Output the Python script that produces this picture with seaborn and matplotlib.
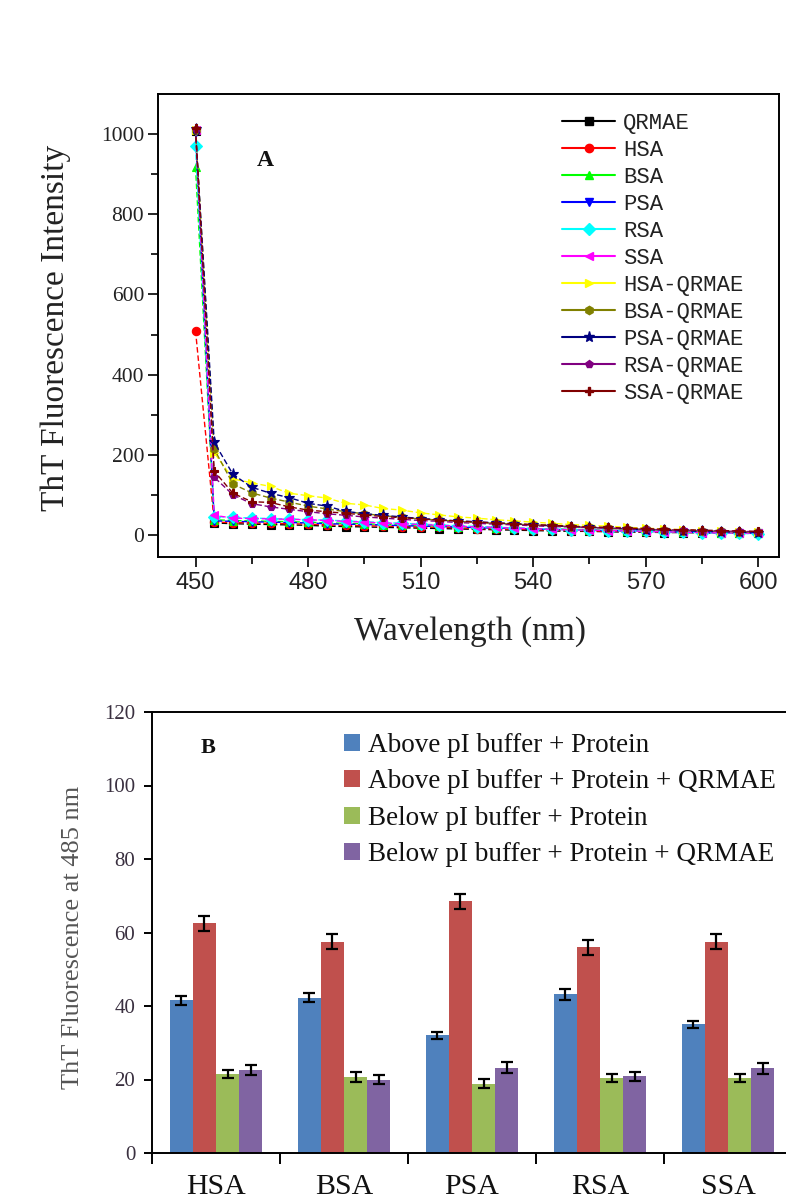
import matplotlib
matplotlib.use("Agg")
import matplotlib.pyplot as plt
import pandas as pd
import seaborn as sns
from matplotlib.lines import Line2D
from matplotlib.patches import Patch
from matplotlib.ticker import MultipleLocator, FixedLocator, NullFormatter

# ---------------- Panel A: ThT emission spectra ----------------
wavelength = [450, 455, 460, 465, 470, 475, 480, 485, 490, 495, 500, 505, 510, 515, 520,
              525, 530, 535, 540, 545, 550, 555, 560, 565, 570, 575, 580, 585, 590, 595, 600]

qrmae = [1008, 30, 28, 27, 26, 25, 24, 22, 21, 20, 19, 18, 17, 16, 15, 14,
         13, 12, 11, 10, 9, 9, 8, 7, 7, 6, 6, 5, 5, 4, 4]
hsa = [510, 32, 31, 30, 29, 28, 27, 25, 24, 23, 22, 21, 20, 19, 18, 16,
       15, 14, 13, 12, 11, 10, 9, 9, 8, 7, 7, 6, 6, 5, 5]
bsa = [918, 38, 36, 35, 34, 33, 32, 30, 29, 28, 26, 25, 24, 22, 21, 20,
       18, 17, 16, 15, 14, 13, 12, 11, 10, 9, 8, 7, 6, 5, 4]
psa = [1005, 35, 34, 33, 32, 31, 30, 28, 27, 26, 25, 23, 22, 21, 20, 18,
       17, 16, 15, 14, 13, 12, 11, 10, 9, 8, 7, 6, 5, 5, 4]
rsa = [970, 46, 44, 42, 41, 40, 38, 37, 35, 33, 31, 29, 27, 25, 23, 21,
       19, 18, 16, 15, 13, 12, 11, 10, 9, 8, 7, 6, 5, 4, 3]
ssa = [1010, 49, 42, 41, 40, 39, 38, 36, 34, 32, 30, 28, 26, 24, 22, 20,
       19, 17, 16, 14, 13, 12, 11, 10, 9, 8, 7, 6, 5, 5, 4]
hsa_qrmae = [1010, 205, 140, 130, 121, 104, 98, 92, 79, 75, 66, 62, 55, 50, 45, 42,
             38, 35, 32, 29, 26, 24, 22, 19, 17, 15, 13, 11, 9, 8, 7]
bsa_qrmae = [1010, 214, 127, 105, 92, 82, 72, 65, 58, 53, 48, 44, 40, 37, 34, 31,
             29, 27, 25, 23, 21, 19, 17, 15, 14, 12, 11, 10, 9, 8, 7]
psa_qrmae = [1012, 231, 151, 119, 104, 93, 79, 72, 59, 53, 49, 45, 41, 38, 35, 33,
             30, 28, 25, 23, 21, 19, 17, 15, 13, 12, 10, 9, 8, 7, 6]
rsa_qrmae = [1013, 144, 100, 78, 70, 64, 58, 53, 49, 45, 42, 39, 36, 34, 31, 29,
             27, 25, 23, 21, 20, 18, 17, 15, 14, 13, 12, 11, 10, 9, 8]
ssa_qrmae = [1015, 159, 104, 83, 81, 70, 62, 58, 54, 50, 46, 43, 40, 37, 35, 32,
             30, 28, 26, 24, 22, 20, 19, 17, 16, 14, 13, 12, 11, 10, 9]

spectra_labels = ["QRMAE", "HSA", "BSA", "PSA", "RSA", "SSA",
                  "HSA-QRMAE", "BSA-QRMAE", "PSA-QRMAE", "RSA-QRMAE", "SSA-QRMAE"]
spectra_values = [qrmae, hsa, bsa, psa, rsa, ssa,
                  hsa_qrmae, bsa_qrmae, psa_qrmae, rsa_qrmae, ssa_qrmae]
spectra_colors = ["#000000", "#FF0000", "#00FF00", "#0000FF", "#00FFFF", "#FF00FF",
                  "#FFFF00", "#808000", "#000080", "#800080", "#800000"]
spectra_markers = ["s", "o", "^", "v", "D", "<", ">", "h", "*", "p", "P"]

# ---------------- Panel B: ThT fluorescence at 485 nm ----------------
proteins = ["HSA", "BSA", "PSA", "RSA", "SSA"]
conditions = ["Above pI buffer + Protein",
              "Above pI buffer + Protein + QRMAE",
              "Below pI buffer + Protein",
              "Below pI buffer + Protein + QRMAE"]
above_protein = [41.6, 42.3, 32.0, 43.2, 35.0]
above_protein_qrmae = [62.5, 57.5, 68.5, 56.0, 57.5]
below_protein = [21.4, 20.6, 18.9, 20.5, 20.3]
below_protein_qrmae = [22.6, 20.0, 23.2, 20.9, 23.0]
above_protein_err = [1.2, 1.3, 1.0, 1.5, 1.0]
above_protein_qrmae_err = [2.0, 2.0, 2.0, 2.0, 2.0]
below_protein_err = [1.1, 1.4, 1.2, 1.1, 1.1]
below_protein_qrmae_err = [1.4, 1.2, 1.5, 1.2, 1.4]
bar_colors = ["#4F81BD", "#C0504D", "#9BBB59", "#8064A2"]

# ---------------- figure setup ----------------
sns.set_theme(style="ticks")
plt.rcParams["font.family"] = ["Liberation Serif", "DejaVu Serif"]
plt.rcParams["axes.linewidth"] = 1.4

W, H = 786, 1202
fig = plt.figure(figsize=(W / 100, H / 100), dpi=100)
fig.patch.set_facecolor("white")


def box(left, top, right, bottom):
    return [left / W, 1 - bottom / H, (right - left) / W, (bottom - top) / H]


# ---------------- Panel A ----------------
axA = fig.add_axes(box(158, 94, 779, 557))
for name, vals, col, mk in zip(spectra_labels, spectra_values, spectra_colors, spectra_markers):
    ms = 8 if mk == "*" else 6
    sns.lineplot(x=wavelength, y=vals, ax=axA, color=col, marker=mk, markersize=ms,
                 markeredgecolor=col, markeredgewidth=0.8, linewidth=1.0,
                 linestyle=(0, (4, 2)), legend=False)

axA.set_xlim(440, 605.6)
axA.set_ylim(-55, 1100)
axA.xaxis.set_major_locator(FixedLocator([450, 480, 510, 540, 570, 600]))
axA.xaxis.set_minor_locator(FixedLocator([465, 495, 525, 555, 585]))
axA.yaxis.set_major_locator(FixedLocator([0, 200, 400, 600, 800, 1000]))
axA.yaxis.set_minor_locator(FixedLocator([100, 300, 500, 700, 900]))
axA.tick_params(axis="both", which="major", direction="out", length=7, width=1.2,
                color="black", top=False, right=False)
axA.tick_params(axis="both", which="minor", direction="out", length=5, width=1.2,
                color="black", top=False, right=False)
for lbl in axA.get_xticklabels():
    lbl.set_fontfamily(["Liberation Sans Narrow", "Liberation Sans", "DejaVu Sans"])
    lbl.set_fontsize(17)
    lbl.set_color("#222222")
for lbl in axA.get_yticklabels():
    lbl.set_fontfamily(["Liberation Serif", "DejaVu Serif"])
    lbl.set_fontsize(15.5)
    lbl.set_color("#222222")
axA.tick_params(axis="x", pad=4)
axA.tick_params(axis="y", pad=3)
for sp in axA.spines.values():
    sp.set_visible(True)
    sp.set_color("black")

axA.set_xlabel("")
axA.set_ylabel("")
fig.text(470 / W, 1 - 632 / H, "Wavelength (nm)", ha="center", va="center",
         fontsize=24, color="#222222")
fig.text(56 / W, 1 - 328 / H, "ThT Fluorescence Intensity", ha="center", va="center",
         rotation=90, fontsize=24, color="#222222")
fig.text(265 / W, 1 - 160 / H, "A", ha="center", va="center", fontsize=17,
         fontweight="bold", color="#111111")

handlesA = [Line2D([0], [0], color=c, marker=m, markersize=(8 if m == "*" else 6),
                   markeredgecolor=c, linewidth=1.5)
            for c, m in zip(spectra_colors, spectra_markers)]
legA = fig.legend(handlesA, spectra_labels, loc="upper left",
                  bbox_to_anchor=(562 / W, 1 - 113 / H), frameon=False,
                  prop={"family": ["Liberation Mono", "DejaVu Sans Mono"], "size": 16},
                  handlelength=2.4, handletextpad=0.35, labelspacing=0.27,
                  borderpad=0, borderaxespad=0)
for t in legA.get_texts():
    t.set_color("#222222")

# ---------------- Panel B ----------------
axB = fig.add_axes(box(152, 712, 792, 1153))
bar_df = pd.DataFrame({
    "protein": proteins * 4,
    "condition": [c for c in conditions for _ in proteins],
    "value": above_protein + above_protein_qrmae + below_protein + below_protein_qrmae,
})
sns.barplot(data=bar_df, x="protein", y="value", hue="condition", order=proteins,
            hue_order=conditions, palette=bar_colors, saturation=1, width=0.72,
            errorbar=None, ax=axB, legend=False, linewidth=0)

bar_errors = [above_protein_err, above_protein_qrmae_err, below_protein_err,
              below_protein_qrmae_err]
for container, errs in zip(axB.containers, bar_errors):
    xs = [b.get_x() + b.get_width() / 2 for b in container]
    ys = [b.get_height() for b in container]
    axB.errorbar(xs, ys, yerr=errs, fmt="none", ecolor="black", elinewidth=1.6,
                 capsize=4, capthick=1.6, zorder=5)

axB.set_xlim(-0.5, 4.5)
axB.set_ylim(0, 120)
axB.yaxis.set_major_locator(MultipleLocator(20))
axB.xaxis.set_major_locator(FixedLocator([-0.5, 0.5, 1.5, 2.5, 3.5]))
axB.xaxis.set_major_formatter(NullFormatter())
axB.set_xticks([0, 1, 2, 3, 4], minor=True)
axB.set_xticklabels(proteins, minor=True)
axB.tick_params(axis="x", which="major", direction="out", length=8, width=1.4,
                color="black", bottom=True, top=False)
axB.tick_params(axis="x", which="minor", length=0, pad=15, labelsize=21.5,
                labelcolor="#111111")
axB.tick_params(axis="y", which="major", direction="out", length=6, width=1.4,
                color="black", labelsize=15, labelcolor="#3a3040", pad=6,
                left=True, right=False)
axB.spines["right"].set_visible(False)
for s in ["left", "bottom", "top"]:
    axB.spines[s].set_color("black")
axB.set_xlabel("")
axB.set_ylabel("")
fig.text(73 / W, 1 - 937 / H, "ThT Fluorescence at 485 nm", ha="center", va="center",
         rotation=90, fontsize=19, color="#555555")
fig.text(208 / W, 1 - 748 / H, "B", ha="center", va="center", fontsize=16,
         fontweight="bold", color="#111111")

handlesB = [Patch(facecolor=c, edgecolor="none") for c in bar_colors]
legB = fig.legend(handlesB, conditions, loc="upper left",
                  bbox_to_anchor=(344 / W, 1 - 733 / H), frameon=False,
                  prop={"family": ["Liberation Serif", "DejaVu Serif"], "size": 19.5},
                  handlelength=0.6, handleheight=0.6, handletextpad=0.3,
                  labelspacing=0.42, borderpad=0, borderaxespad=0)
for t in legB.get_texts():
    t.set_color("#111111")

fig.savefig("out.png", dpi=100, facecolor="white")
